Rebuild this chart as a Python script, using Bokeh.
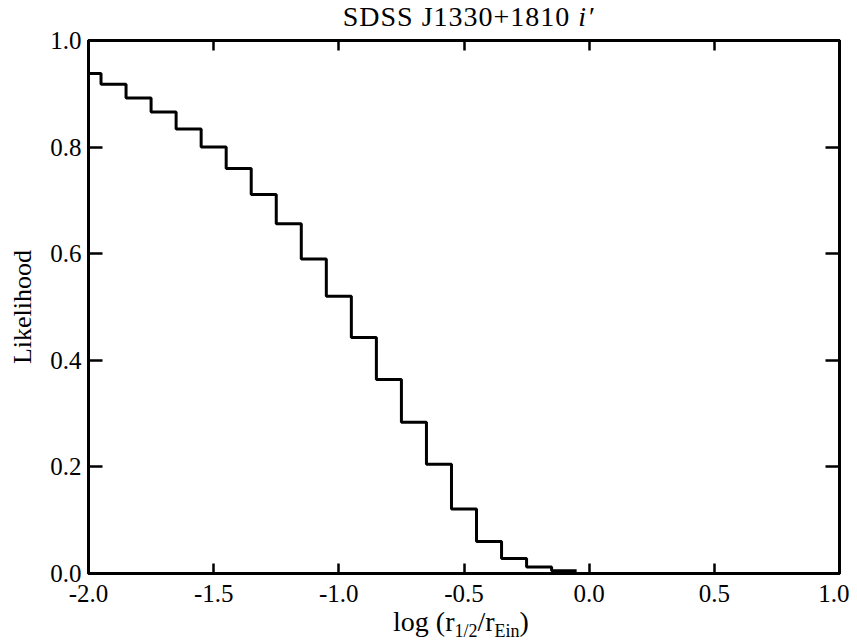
from bokeh.plotting import figure
from bokeh.models import Range1d, FixedTicker, PrintfTickFormatter, LinearAxis, CustomJSTickFormatter, Div
from bokeh.layouts import column
from bokeh.embed import file_html
from bokeh.resources import INLINE

# ---- data ----
bin_centers = [-2.0, -1.9, -1.8, -1.7, -1.6, -1.5, -1.4, -1.3, -1.2, -1.1,
               -1.0, -0.9, -0.8, -0.7, -0.6, -0.5, -0.4, -0.3, -0.2, -0.1]
likelihood = [0.938, 0.918, 0.892, 0.866, 0.834, 0.800, 0.760, 0.711, 0.656, 0.590,
              0.520, 0.443, 0.364, 0.284, 0.205, 0.121, 0.060, 0.028, 0.012, 0.005]
bin_width = 0.1
x_ticks = [-2.0, -1.5, -1.0, -0.5, 0.0, 0.5, 1.0]
y_ticks = [0.0, 0.2, 0.4, 0.6, 0.8, 1.0]
x_min, x_max = -2.0, 1.0
y_min, y_max = 0.0, 1.0
title_text = "SDSS J1330+1810"
band_text = "i&prime;"
y_label = "Likelihood"

FONT = "Liberation Serif"
W = 849

p = figure(width=W, height=584, x_range=Range1d(x_min, x_max), y_range=Range1d(y_min, y_max),
           output_backend="svg", toolbar_location=None,
           min_border_left=88, min_border_right=10, min_border_top=12, min_border_bottom=39,
           margin=0)
p.grid.visible = False
p.outline_line_color = "black"
p.outline_line_width = 3
p.background_fill_color = "white"
p.border_fill_color = "white"

# histogram-style step line
xs = [max(c - bin_width / 2, x_min) for c in bin_centers] + [bin_centers[-1] + bin_width / 2]
ys = likelihood + [likelihood[-1]]
p.step(x=xs, y=ys, mode="after", line_color="black", line_width=3)

def style(ax, tick_in, ticks, labels=True):
    ax.ticker = FixedTicker(ticks=ticks)
    ax.axis_line_color = "black"
    ax.axis_line_width = 3
    ax.major_tick_in = tick_in
    ax.major_tick_out = 0
    ax.major_tick_line_width = 2.5
    ax.major_tick_line_color = "black"
    ax.minor_tick_line_color = None
    if labels:
        ax.formatter = PrintfTickFormatter(format="%.1f")
        ax.major_label_text_font = FONT
        ax.major_label_text_font_size = "25px"
        ax.major_label_text_color = "black"
    else:
        ax.formatter = CustomJSTickFormatter(code="return ''")
        ax.major_label_text_font_size = "1px"
        ax.major_label_standoff = 0

style(p.xaxis[0], 10, x_ticks)
p.xaxis[0].major_label_standoff = 11
style(p.yaxis[0], 14, y_ticks)
p.yaxis[0].major_label_standoff = 7
p.yaxis[0].axis_label = y_label
p.yaxis[0].axis_label_text_font = FONT
p.yaxis[0].axis_label_text_font_size = "26px"
p.yaxis[0].axis_label_text_font_style = "normal"
p.yaxis[0].axis_label_text_color = "black"
p.yaxis[0].axis_label_standoff = 10

top = LinearAxis()
style(top, 10, x_ticks, labels=False)
p.add_layout(top, "above")
right = LinearAxis()
style(right, 14, y_ticks, labels=False)
p.add_layout(right, "right")

title_div = Div(
    text=('<div style="width:%dpx; box-sizing:border-box; padding-left:88px; text-align:center; '
          'font-family:\'Liberation Serif\', serif; font-size:28px; letter-spacing:1px; '
          'line-height:20px; color:black; position:relative; top:7px; white-space:nowrap;">'
          '%s <i>%s</i></div>') % (W, title_text, band_text),
    width=W, height=28, margin=0, styles={"overflow": "visible"})

xlabel_div = Div(
    text=('<div style="width:%dpx; box-sizing:border-box; padding-left:73px; text-align:center; '
          'font-family:\'Liberation Serif\', serif; font-size:28px; line-height:22px; color:black; '
          'position:relative; top:-1px; white-space:nowrap;">'
          'log (r<span style="font-size:18px; vertical-align:-6px;">1/2</span>/r'
          '<span style="font-size:18px; vertical-align:-6px;">Ein</span>)</div>') % W,
    width=W, height=26, margin=0, styles={"overflow": "visible"})

layout = column(title_div, p, xlabel_div, spacing=0, margin=0)

open("out.html", "w").write(file_html(layout, INLINE))
